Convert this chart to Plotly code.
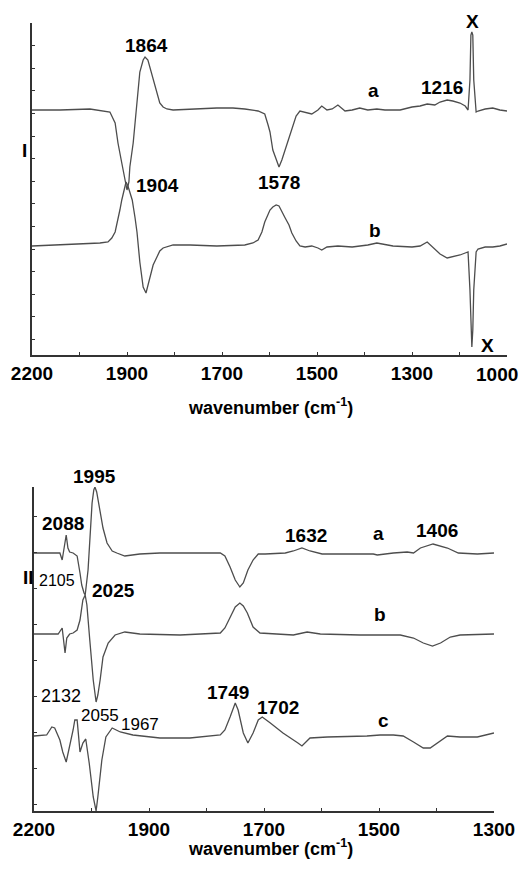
import plotly.graph_objects as go

# ---------------- data ----------------
# Panel I : wavenumber axis, intensities in arbitrary units
TOP_A_WN = [2100, 2041, 1978, 1936, 1925, 1919, 1911, 1904, 1900, 1896, 1894, 1887, 1879, 1873, 1866, 1862, 1856,
            1852, 1841, 1831, 1824, 1816, 1803, 1767, 1711, 1677, 1652, 1624, 1610, 1603, 1599, 1593, 1586, 1580,
            1574, 1567, 1559, 1553, 1544, 1536, 1525, 1511, 1498, 1490, 1479, 1468, 1456, 1441, 1426, 1410, 1393,
            1374, 1357, 1340, 1325, 1300, 1283, 1268, 1252, 1241, 1226, 1214, 1199, 1188, 1182, 1178, 1176, 1174,
            1172, 1170, 1165, 1161, 1146, 1130, 1115, 1100]
TOP_A_Y = [245, 245, 246, 243, 232, 212, 192, 173, 165, 173, 188, 212, 255, 283, 295, 298, 295,
           288, 268, 252, 248, 246, 245, 246, 247, 247, 246, 244, 241, 230, 223, 205, 195, 188,
           195, 205, 217, 227, 239, 244, 243, 241, 245, 249, 245, 246, 250, 244, 245, 247, 245,
           246, 245, 245, 245, 248, 249, 251, 250, 253, 255, 254, 252, 249, 245, 275, 320, 323,
           320, 275, 243, 244, 246, 247, 245, 244]

TOP_B_WN = [2100, 2041, 1978, 1957, 1940, 1932, 1925, 1919, 1915, 1911, 1906, 1902, 1898, 1894, 1889, 1883, 1879,
            1873, 1866, 1860, 1852, 1845, 1837, 1831, 1824, 1803, 1767, 1711, 1652, 1635, 1624, 1616, 1610, 1603,
            1599, 1593, 1586, 1580, 1574, 1567, 1559, 1553, 1544, 1536, 1525, 1511, 1498, 1490, 1479, 1456, 1426,
            1393, 1374, 1340, 1300, 1283, 1268, 1252, 1241, 1226, 1214, 1199, 1188, 1182, 1178, 1176, 1174, 1172,
            1170, 1165, 1161, 1146, 1130, 1115, 1100]
TOP_B_Y = [109, 110, 111, 112, 113, 117, 123, 135, 145, 155, 167, 173, 169, 163, 155, 137, 123,
           93, 68, 62, 78, 90, 98, 104, 107, 110, 110, 109, 110, 112, 115, 123, 133, 141,
           145, 148, 150, 149, 143, 137, 130, 122, 114, 109, 108, 109, 107, 105, 108, 109, 108,
           110, 112, 109, 108, 109, 113, 106, 101, 97, 98, 100, 102, 103, 65, 25, 8, 25,
           65, 103, 106, 108, 108, 109, 111]

# Panel II
BOT_A_WN = [2100, 2072, 2055, 2051, 2044, 2041, 2038, 2032, 2025, 2020, 2017, 2013, 2011, 2006, 2003, 1999, 1996,
            1994, 1991, 1985, 1980, 1973, 1964, 1956, 1942, 1916, 1881, 1811, 1776, 1768, 1759, 1750, 1742, 1736,
            1728, 1719, 1710, 1698, 1663, 1649, 1634, 1620, 1599, 1510, 1503, 1475, 1451, 1440, 1428, 1406, 1381,
            1362, 1329, 1300]
BOT_A_Y = [258, 258, 258, 251, 276, 263, 259, 258, 255, 238, 226, 218, 216, 241, 276, 308, 321,
           324, 319, 298, 283, 268, 260, 258, 255, 257, 258, 258, 258, 255, 244, 231, 224, 228,
           241, 251, 257, 257, 258, 260, 263, 260, 257, 257, 256, 258, 259, 258, 263, 267, 263,
           258, 257, 258]

BOT_B_WN = [2100, 2058, 2051, 2048, 2046, 2043, 2038, 2032, 2025, 2020, 2015, 2011, 2008, 2003, 1997, 1992, 1989,
            1985, 1980, 1971, 1959, 1942, 1916, 1846, 1776, 1768, 1759, 1750, 1742, 1736, 1729, 1719, 1707, 1649,
            1625, 1602, 1533, 1463, 1440, 1423, 1407, 1393, 1376, 1359, 1300]
BOT_B_Y = [177, 177, 183, 171, 158, 173, 177, 178, 181, 191, 211, 216, 206, 171, 131, 109, 116,
           131, 154, 168, 176, 179, 177, 176, 178, 183, 194, 204, 208, 205, 198, 184, 178, 176,
           179, 177, 176, 176, 173, 168, 165, 168, 174, 176, 177]

BOT_C_WN = [2100, 2078, 2069, 2064, 2055, 2050, 2044, 2038, 2032, 2029, 2025, 2020, 2015, 2010, 2004, 1997, 1992,
            1989, 1982, 1975, 1964, 1950, 1928, 1881, 1829, 1776, 1768, 1759, 1750, 1745, 1736, 1728, 1719, 1710,
            1703, 1689, 1667, 1641, 1634, 1620, 1590, 1521, 1498, 1475, 1458, 1440, 1423, 1411, 1399, 1381, 1359,
            1329, 1300]
BOT_C_Y = [75, 76, 84, 83, 71, 59, 49, 64, 81, 91, 91, 59, 68, 72, 48, 14, 0,
           14, 51, 74, 83, 79, 76, 73, 73, 76, 81, 94, 108, 101, 78, 68, 78, 91,
           94, 88, 78, 68, 65, 73, 74, 75, 76, 76, 75, 69, 63, 63, 68, 75, 74,
           74, 78]

# tick positions / labels as printed on the original figure
TOP_TICK_VALS = [2100, 1900, 1700, 1500, 1300]
TOP_TICK_TEXT = ["2200", "1900", "1700", "1500", "1300"]
TOP_END_VAL, TOP_END_TEXT = 1100, "1000"          # last label, printed shifted left of its tick
TOP_MINOR_VALS = [2000, 1800, 1600, 1400, 1200, 1100]
BOT_TICK_VALS = [2100, 1900, 1700, 1500, 1300]
BOT_TICK_TEXT = ["2200", "1900", "1700", "1500", "1300"]
BOT_MINOR_VALS = [2000, 1800, 1600, 1400]

# peak labels: (text, wavenumber, intensity, size, bold)
TOP_LABELS = [("1864", 1860, 310, 19, True), ("1904", 1835, 170, 19, True), ("1578", 1580, 173, 19, True),
              ("a", 1382, 265, 19, True), ("1216", 1237, 268, 19, True), ("X", 1172, 331, 19, True),
              ("b", 1378, 125, 19, True), ("X", 1142, 10, 19, True)]
BOT_LABELS = [("1995", 1994, 323, 19, True), ("2088", 2050, 288, 19, True), ("2105", 2060, 231, 16, False),
              ("2025", 1961, 221, 19, True), ("1632", 1627, 276, 19, True), ("a", 1501, 278, 19, True),
              ("1406", 1400, 281, 19, True), ("b", 1498, 197, 19, True), ("c", 1493, 91, 19, True),
              ("1749", 1762, 119, 19, True), ("1702", 1675, 104, 19, True), ("2132", 2053, 115, 18, False),
              ("2055", 1985, 96, 17, False), ("1967", 1916, 87, 17, False)]
# labels sitting above the top of their axis get a small upward shift (pixels)
LABEL_SHIFT = {("X", 1172): 3, ("1995", 1994): 12}

# ---------------- figure ----------------
W, H = 523, 871
FONT = "Liberation Sans, Arial, sans-serif"
LINE = dict(color="#4d4d4d", width=1.3)
AX = "#333333"


def tfont(size, bold=True):
    return dict(family=FONT, color="black", size=size, weight="bold" if bold else "normal")


fig = go.Figure()
for xs, ys in [(TOP_A_WN, TOP_A_Y), (TOP_B_WN, TOP_B_Y)]:
    fig.add_trace(go.Scatter(x=xs, y=ys, mode="lines", line=LINE, xaxis="x", yaxis="y",
                             showlegend=False, hoverinfo="skip", cliponaxis=False))
for xs, ys in [(BOT_A_WN, BOT_A_Y), (BOT_B_WN, BOT_B_Y), (BOT_C_WN, BOT_C_Y)]:
    fig.add_trace(go.Scatter(x=xs, y=ys, mode="lines", line=LINE, xaxis="x2", yaxis="y2",
                             showlegend=False, hoverinfo="skip", cliponaxis=False))

xcommon = dict(showgrid=False, zeroline=False, showline=True, linecolor=AX, linewidth=1.6,
               ticks="inside", ticklen=3, tickwidth=1, tickcolor=AX, automargin=False,
               tickfont=tfont(19))
ycommon = dict(showgrid=False, zeroline=False, showline=True, linecolor=AX, linewidth=1.6,
               ticks="inside", ticklen=3, tickwidth=1, tickcolor=AX, showticklabels=False,
               automargin=False)

fig.update_layout(
    width=W, height=H, margin=dict(l=0, r=0, t=0, b=0, autoexpand=False),
    paper_bgcolor="white", plot_bgcolor="white",
    xaxis=dict(domain=[32 / W, 507 / W], range=[2100, 1100], anchor="y",
               tickmode="array", tickvals=TOP_TICK_VALS, ticktext=TOP_TICK_TEXT,
               minor=dict(tickmode="array", tickvals=TOP_MINOR_VALS, ticks="inside", ticklen=3,
                          tickwidth=1, tickcolor=AX, showgrid=False),
               **xcommon),
    yaxis=dict(domain=[1 - 355 / H, 1 - 23 / H], range=[0, 332], anchor="x",
               tick0=15.6, dtick=22.6, **ycommon),
    xaxis2=dict(domain=[34 / W, 494 / W], range=[2100, 1300], anchor="y2",
                tickmode="array", tickvals=BOT_TICK_VALS, ticktext=BOT_TICK_TEXT,
                minor=dict(tickmode="array", tickvals=BOT_MINOR_VALS, ticks="inside", ticklen=3,
                           tickwidth=1, tickcolor=AX, showgrid=False),
                **xcommon),
    yaxis2=dict(domain=[1 - 811 / H, 1 - 487 / H], range=[0, 324], anchor="x2",
                tick0=7, dtick=35.9, **ycommon),
)

annots = []
for ref, labels in [(("x", "y"), TOP_LABELS), (("x2", "y2"), BOT_LABELS)]:
    for t, x, y, s, b in labels:
        annots.append(dict(text=t, x=x, y=y, xref=ref[0], yref=ref[1], showarrow=False,
                           yshift=LABEL_SHIFT.get((t, x), 0), font=tfont(s, b)))
annots += [
    dict(text=TOP_END_TEXT, x=TOP_END_VAL, y=1 - 374 / H, xref="x", yref="paper",
         xshift=-10, showarrow=False, font=tfont(19)),
    dict(text="I", x=20 / W, y=1 - 138 / H, xref="paper", yref="paper", showarrow=False,
         font=tfont(19)),
    dict(text="II", x=21 / W, y=1 - 577 / H, xref="paper", yref="paper", showarrow=False,
         font=tfont(19)),
    dict(text="wavenumber (cm<sup>-1</sup>)", x=270 / W, y=1 - 406 / H, xref="paper", yref="paper",
         showarrow=False, font=tfont(18)),
    dict(text="wavenumber (cm<sup>-1</sup>)", x=270 / W, y=1 - 861 / H, xref="paper", yref="paper",
         showarrow=False, font=tfont(18)),
]
fig.update_layout(annotations=annots)

fig.write_html("out.html", config={"displayModeBar": False},
               post_script="document.body.style.margin='0';")
